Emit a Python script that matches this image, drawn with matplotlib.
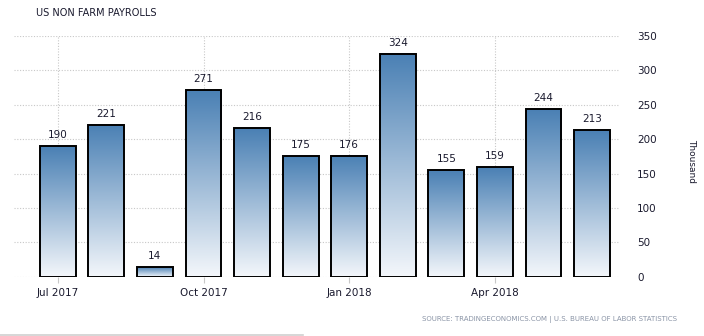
import matplotlib

matplotlib.use("Agg")
import matplotlib.pyplot as plt
import numpy as np
from matplotlib.colors import LinearSegmentedColormap
from matplotlib.lines import Line2D

# monthly change, thousands of jobs (Jul 2017 - Jun 2018)
values = [190, 221, 14, 271, 216, 175, 176, 324, 155, 159, 244, 213]
tick_pos = [0, 3, 6, 9]
tick_labels = ["Jul 2017", "Oct 2017", "Jan 2018", "Apr 2018"]
y_ticks = [0, 50, 100, 150, 200, 250, 300, 350]

TEXT = "#1a1a2e"
GRID = "#c8c8c8"
cmap = LinearSegmentedColormap.from_list("bar", ["#f4f7fb", "#4a80b4"])

fig = plt.figure(figsize=(7.04, 3.36), dpi=100)
ax = fig.add_axes([0.020, 0.176, 0.861, 0.717])

x = np.arange(len(values))
width = 0.74
grad = np.linspace(0, 1, 256).reshape(-1, 1)

for xi, v in zip(x, values):
    ax.imshow(grad, cmap=cmap, origin="lower", aspect="auto",
              extent=(xi - width / 2, xi + width / 2, 0, v), zorder=2)
    ax.bar(xi, v, width=width, facecolor="none", edgecolor="black",
           linewidth=1.4, joinstyle="miter", zorder=3)
    ax.text(xi, v + 9, str(v), ha="center", va="bottom", fontsize=7.5,
            color=TEXT, zorder=4)

ax.set_xlim(-0.9, 11.58)
ax.set_ylim(0, 350)

ax.yaxis.tick_right()
ax.set_yticks(y_ticks)
ax.set_yticklabels([str(t) for t in y_ticks], fontsize=7.5, color=TEXT)
ax.tick_params(axis="y", length=0, pad=12)
ax.set_xticks(tick_pos)
ax.set_xticklabels(tick_labels, fontsize=7.5, color=TEXT)
ax.tick_params(axis="x", length=4, color=GRID, pad=4)

for t in y_ticks:
    ax.axhline(t, color=GRID, linestyle=(0, (1, 1.5)), linewidth=0.8, zorder=1)
for p in tick_pos:
    ax.axvline(p, color=GRID, linestyle=(0, (1, 1.5)), linewidth=0.8, zorder=1)

for s in ax.spines.values():
    s.set_visible(False)

fig.text(0.983, 0.52, "Thousand", rotation=270, fontsize=6.5, color=TEXT,
         ha="center", va="center")
fig.text(0.051, 0.962, "US NON FARM PAYROLLS", fontsize=7, color=TEXT,
         ha="left", va="center")
fig.text(0.961, 0.048,
         "SOURCE: TRADINGECONOMICS.COM | U.S. BUREAU OF LABOR STATISTICS",
         fontsize=5, color="#8a94a6", ha="right", va="center")
fig.add_artist(Line2D([0, 0.43], [0.004, 0.004], color="#d0d0d0",
                      linewidth=1.2, transform=fig.transFigure))

fig.savefig("out.png", dpi=100)
